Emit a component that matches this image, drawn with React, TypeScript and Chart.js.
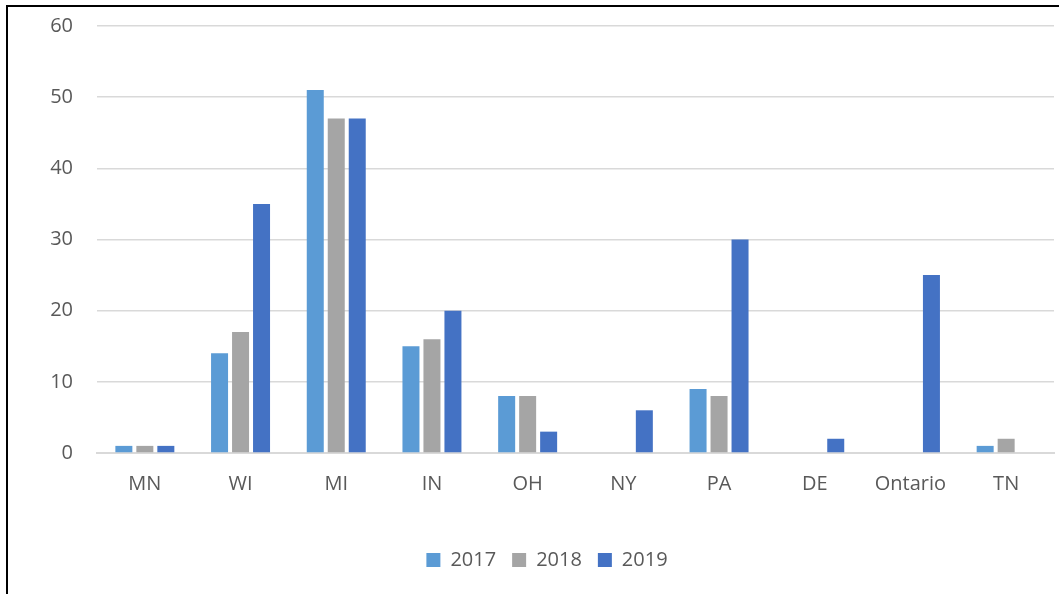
import React, { useEffect, useRef } from "react";
import { Chart, registerables } from "chart.js";

Chart.register(...registerables);

const categories = ["MN", "WI", "MI", "IN", "OH", "NY", "PA", "DE", "Ontario", "TN"];
const series2017 = [1, 14, 51, 15, 8, 0, 9, 0, 0, 1];
const series2018 = [1, 17, 47, 16, 8, 0, 8, 0, 0, 2];
const series2019 = [1, 35, 47, 20, 3, 6, 30, 2, 25, 0];
const seriesLabels = ["2017", "2018", "2019"];
const yTicks = { min: 0, max: 60, step: 10 };

export default function App() {
  const ref = useRef<HTMLCanvasElement>(null);
  useEffect(() => {
    if (!ref.current) return;
    const font = { family: "'Open Sans', sans-serif", size: 20 };
    const chart = new Chart(ref.current, {
      type: "bar",
      data: {
        labels: categories,
        datasets: [
          { label: seriesLabels[0], data: series2017, backgroundColor: "#5B9BD5" },
          { label: seriesLabels[1], data: series2018, backgroundColor: "#A5A5A5" },
          { label: seriesLabels[2], data: series2019, backgroundColor: "#4472C4" },
        ],
      },
      options: {
        animation: false,
        responsive: false,
        maintainAspectRatio: false,
        datasets: { bar: { categoryPercentage: 0.658, barPercentage: 0.81 } },
        layout: { padding: { left: 40, right: 5, top: 26, bottom: 14 } },
        plugins: {
          tooltip: { enabled: false },
          legend: {
            position: "bottom",
            labels: {
              font,
              color: "#595959",
              boxWidth: 14,
              boxHeight: 14,
              padding: 16,
            },
          },
        },
        scales: {
          x: {
            grid: { display: false },
            border: { display: true, color: "#D9D9D9", width: 2 },
            ticks: { font, color: "#595959", padding: 11, maxRotation: 0 },
            afterFit: (s: any) => { s.height = 81; },
          },
          y: {
            min: yTicks.min,
            max: yTicks.max,
            ticks: { stepSize: yTicks.step, font, color: "#595959", padding: 24 },
            grid: { color: "#D9D9D9", lineWidth: 1.5, drawTicks: false },
            border: { display: false },
            afterFit: (s: any) => { s.width = 57; s.paddingTop = 0; s.paddingBottom = 0; },
          },
        },
      },
    });
    return () => chart.destroy();
  }, []);
  return (
    <div style={{ position: "fixed", left: 0, top: 0, width: 1059, height: 594, background: "#fff" }}>
      <div style={{ position: "absolute", left: 6, top: 5, right: 0, bottom: 0, borderLeft: "2px solid #000", borderTop: "2px solid #000" }} />
      <canvas ref={ref} width={1059} height={594} style={{ position: "absolute", left: 0, top: 0 }} />
    </div>
  );
}
